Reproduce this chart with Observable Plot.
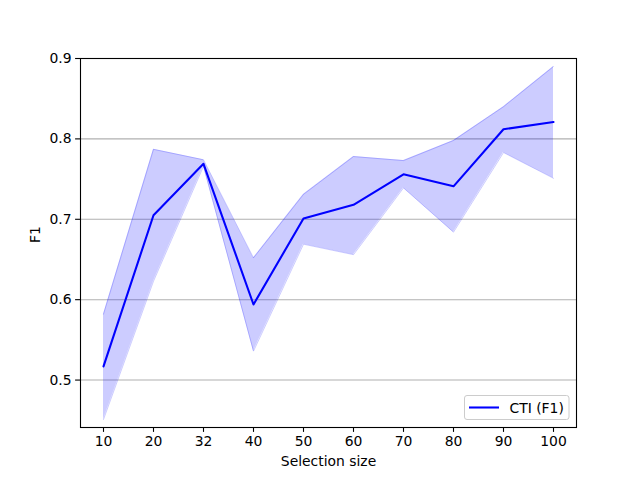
<!DOCTYPE html>
<html>
<head>
<meta charset="utf-8">
<script src="https://cdn.jsdelivr.net/npm/d3@7"></script>
<script src="https://cdn.jsdelivr.net/npm/@observablehq/plot@0.6"></script>
<style>
  html, body { margin: 0; padding: 0; background: white; }
  #chart { position: relative; width: 640px; height: 480px; }
</style>
</head>
<body>
<div id="chart"></div>
<script>
const sizeLabels = ["10", "20", "32", "40", "50", "60", "70", "80", "90", "100"];
const meanF1  = [0.517, 0.705, 0.769, 0.594, 0.701, 0.718, 0.756, 0.741, 0.812, 0.821];
const upperF1 = [0.582, 0.787, 0.774, 0.652, 0.731, 0.778, 0.773, 0.798, 0.840, 0.890];
const lowerF1 = [0.451, 0.623, 0.766, 0.536, 0.669, 0.656, 0.739, 0.684, 0.783, 0.751];
const yTicks = [0.5, 0.6, 0.7, 0.8, 0.9];
const seriesName = "CTI (F1)";
const xTitle = "Selection size";
const yTitle = "F1";

const data = sizeLabels.map((s, i) => ({i, label: s, mean: meanF1[i], hi: upperF1[i], lo: lowerF1[i]}));
const idx = data.map(d => d.i);

const font = "DejaVu Sans, sans-serif";
const fs = 13.9;

const plot = Plot.plot({
  width: 640,
  height: 480,
  marginLeft: 80,
  marginRight: 64,
  marginTop: 58,
  marginBottom: 53,
  style: {fontFamily: font, fontSize: fs + "px", background: "white", color: "black"},
  x: {type: "linear", domain: [-0.46, 9.46]},
  y: {type: "linear", domain: [0.441, 0.9]},
  marks: [
    Plot.gridY(yTicks, {stroke: "#b0b0b0", strokeOpacity: 1, strokeWidth: 1.1}),
    Plot.areaY(data, {x: "i", y1: "lo", y2: "hi", fill: "#0000ff", fillOpacity: 0.2, curve: "linear"}),
    Plot.line(data, {x: "i", y: "lo", stroke: "#0000ff", strokeOpacity: 0.2, strokeWidth: 1}),
    Plot.line(data, {x: "i", y: "hi", stroke: "#0000ff", strokeOpacity: 0.2, strokeWidth: 1}),
    Plot.line(data, {x: "i", y: "mean", stroke: "#0000ff", strokeWidth: 2.08}),
    Plot.frame({stroke: "black", strokeWidth: 1.1}),
    Plot.axisX(idx, {tickFormat: i => sizeLabels[i], tickSize: 4.9, tickPadding: 4, label: null, fontSize: fs, strokeWidth: 1.1}),
    Plot.axisY(yTicks, {tickFormat: d3.format(".1f"), tickSize: 4.9, tickPadding: 4, label: null, fontSize: fs, strokeWidth: 1.1}),
    Plot.text([xTitle], {frameAnchor: "bottom", lineAnchor: "top", dy: 29, fontSize: fs, fill: "black"}),
    Plot.text([yTitle], {frameAnchor: "left", rotate: -90, lineAnchor: "middle", dx: -45, fontSize: fs, fill: "black"})
  ]
});

document.getElementById("chart").appendChild(plot);

// legend (lower right, inside the plot area)
const svg = d3.select(plot);
const lg = svg.append("g").attr("font-family", font).attr("font-size", fs);
lg.append("rect")
  .attr("x", 464.5).attr("y", 395.5).attr("width", 104.5).attr("height", 24)
  .attr("rx", 2.5).attr("fill", "white").attr("fill-opacity", 0.8)
  .attr("stroke", "#cccccc").attr("stroke-width", 1);
lg.append("line")
  .attr("x1", 469).attr("x2", 499).attr("y1", 407.5).attr("y2", 407.5)
  .attr("stroke", "#0000ff").attr("stroke-width", 2.08);
lg.append("text")
  .attr("x", 509.5).attr("y", 412.5).attr("fill", "black")
  .attr("text-anchor", "start")
  .text(seriesName);
</script>
</body>
</html>
